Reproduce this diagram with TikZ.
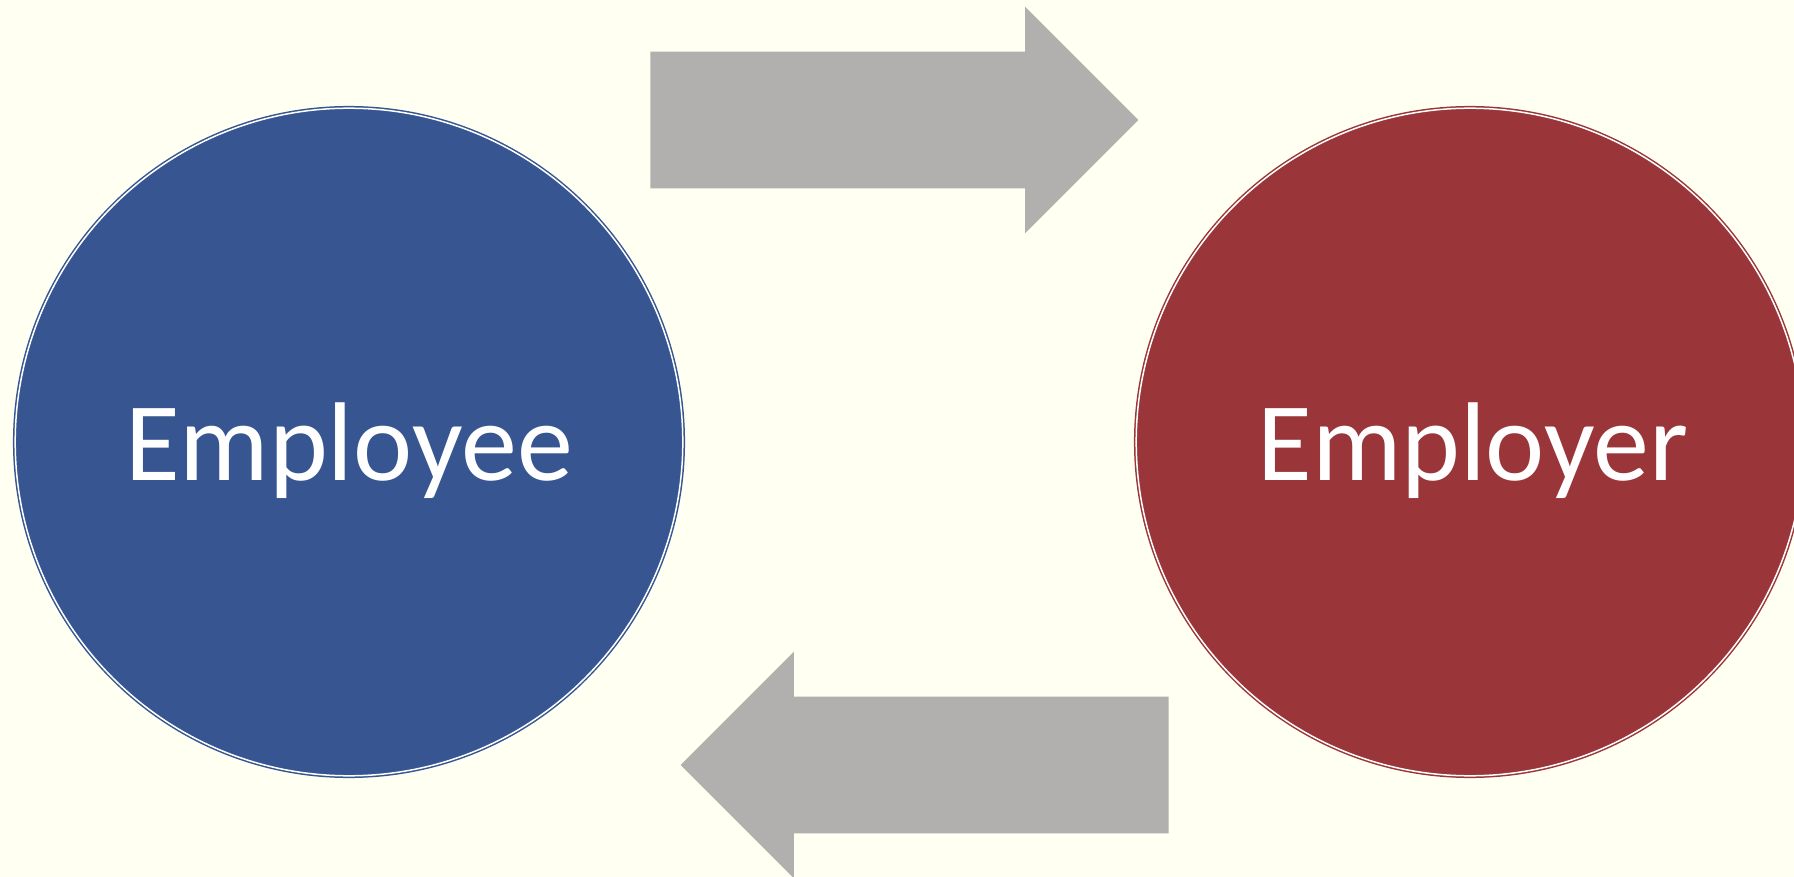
\documentclass[tikz,border=0pt]{standalone}
\usepackage{fontspec}
\setmainfont{Carlito}
\usetikzlibrary{shapes,arrows,positioning}

\definecolor{paper}{RGB}{255,255,242}
\definecolor{workblue}{RGB}{54,85,145}
\definecolor{bossred}{RGB}{154,54,57}
\definecolor{flowgray}{RGB}{177,176,174}

\begin{document}
\begin{tikzpicture}[x=0.5pt,y=-0.5pt,
  party/.style={circle,minimum size=333.8pt,inner sep=0pt,line width=0.75pt,
    double=white,double distance=0.75pt},
  label/.style={text=white,font=\fontsize{56}{60}\selectfont,anchor=base},
  flow/.style={single arrow,fill=flowgray,draw=none,inner sep=0pt,
    text height=34pt,text depth=34pt,text width=0pt,
    minimum height=244pt,
    single arrow head extend=22.5pt,single arrow tip angle=90,anchor=tip}]
\fill[paper] (0,0) rectangle (1794,877);
\clip (0,0) rectangle (1794,877);

\coordinate (L) at (349,442);
\coordinate (R) at (1470,442);

\node[party,fill=workblue,draw=workblue] (employee) at (L) {};
\node[party,fill=bossred,draw=bossred] (employer) at (R) {};
\node[label] at (349,480) {Employee};
\node[label] at (1473,480) {Employer};

\node[flow] (pay) at (1139,120) {};
\node[flow,shape border rotate=180] (work) at (680,765) {};

\end{tikzpicture}
\end{document}
